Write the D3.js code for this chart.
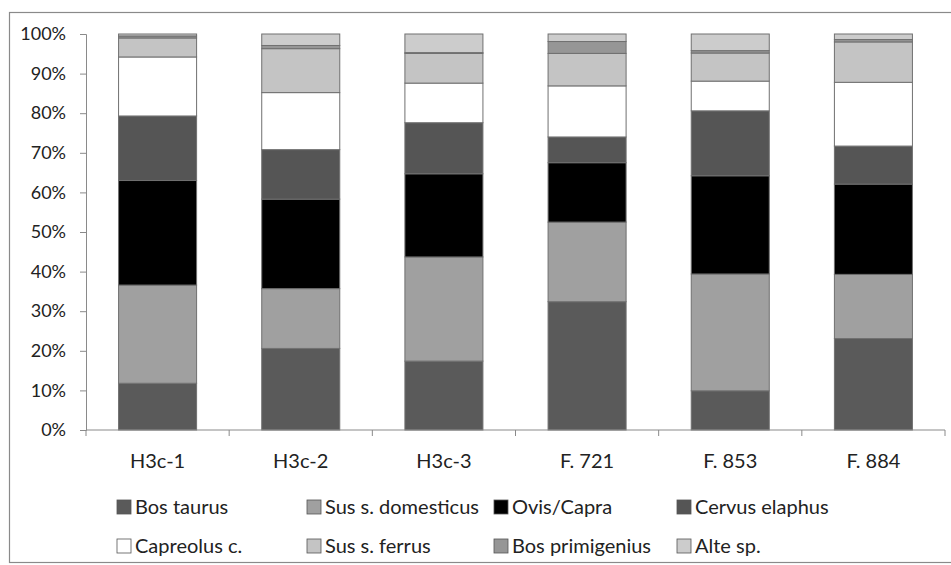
<!doctype html>
<html lang="en">
<head>
  <meta charset="UTF-8">
  <title>Fauna</title>
  <script src="https://cdn.jsdelivr.net/npm/d3@7"></script>
</head>
<body style="margin: 0; background: white">
<div id="container"></div>
<script type="text/javascript">
var sites = ['H3c-1', 'H3c-2', 'H3c-3', 'F. 721', 'F. 853', 'F. 884'];
var species = ['Bos taurus', 'Sus s. domesticus', 'Ovis/Capra', 'Cervus elaphus',
               'Capreolus c.', 'Sus s. ferrus', 'Bos primigenius', 'Alte sp.'];

// percentages per site, same order as sites
var bosTaurus      = [11.8, 20.6, 17.4, 32.4,  9.9, 23.1];
var susDomesticus  = [24.8, 15.1, 26.3, 20.1, 29.5, 16.2];
var ovisCapra      = [26.4, 22.6, 21.0, 15.0, 24.8, 22.8];
var cervusElaphus  = [16.3, 12.5, 12.9,  6.5, 16.4,  9.6];
var capreolus      = [14.9, 14.4, 10.0, 12.9,  7.5, 16.1];
var susFerrus      = [ 4.8, 11.1,  7.5,  8.2,  7.1, 10.2];
var bosPrimigenius = [ 0.5,  0.8,  0.2,  3.0,  0.6,  0.6];
var alteSp         = [ 0.5,  2.9,  4.7,  1.9,  4.2,  1.4];

var yTicks = [0, 10, 20, 30, 40, 50, 60, 70, 80, 90, 100];

var colors = ['#5a5a5a', '#a0a0a0', '#000000', '#555555',
              '#ffffff', '#c4c4c4', '#969696', '#cccccc'];

var seriesValues = [bosTaurus, susDomesticus, ovisCapra, cervusElaphus,
                    capreolus, susFerrus, bosPrimigenius, alteSp];

var rows = sites.map(function(s, i) {
  var r = {site: s};
  species.forEach(function(sp, j) { r[sp] = seriesValues[j][i]; });
  return r;
});

var W = 951, H = 565;
var font = 'Lato, "Open Sans", sans-serif';
var svg = d3.select('#container').append('svg')
  .attr('width', W)
  .attr('height', H)
  .style('font-family', font);

// outer frame
svg.append('rect')
  .attr('x', 9.5).attr('y', 12.5)
  .attr('width', 960).attr('height', 550)
  .attr('fill', 'none')
  .attr('stroke', '#8a8a8a')
  .attr('stroke-width', 1.2);

var x = d3.scaleBand()
  .domain(sites)
  .range([86, 945])
  .paddingInner(0.455)
  .paddingOuter(0.2275);

var y = d3.scaleLinear()
  .domain([0, 100])
  .range([430, 34]);

var stack = d3.stack().keys(species);
var layers = stack(rows);

svg.selectAll('.layer')
  .data(layers)
  .enter()
  .append('g')
  .attr('class', 'layer')
  .attr('fill', function(d, i) { return colors[i]; })
  .selectAll('rect')
  .data(function(d) { return d; })
  .enter()
  .append('rect')
  .attr('x', function(d) { return x(d.data.site); })
  .attr('y', function(d) { return y(d[1]); })
  .attr('width', x.bandwidth())
  .attr('height', function(d) { return y(d[0]) - y(d[1]); })
  .attr('stroke', '#707070')
  .attr('stroke-width', 1);

// y axis
var yAxis = svg.append('g')
  .attr('transform', 'translate(86,0)')
  .call(d3.axisLeft(y).tickValues(yTicks).tickSize(6).tickPadding(14)
    .tickFormat(function(d) { return d + '%'; }));
yAxis.select('.domain').attr('stroke', '#8a8a8a');
yAxis.selectAll('.tick line').attr('stroke', '#8a8a8a');
yAxis.selectAll('.tick text')
  .attr('fill', '#222')
  .style('font-size', '18px')
  .style('font-family', font);

// x axis with boundary ticks
var xAxis = svg.append('g').attr('transform', 'translate(0,430)');
xAxis.append('line')
  .attr('x1', 86).attr('x2', 945)
  .attr('stroke', '#8a8a8a');
var bounds = sites.map(function(s) { return x(s) - x.step() * x.paddingInner() / 2; });
bounds.push(x(sites[sites.length - 1]) + x.bandwidth() + x.step() * x.paddingInner() / 2);
xAxis.selectAll('.xt')
  .data(bounds)
  .enter()
  .append('line')
  .attr('x1', function(d) { return d; })
  .attr('x2', function(d) { return d; })
  .attr('y1', 0).attr('y2', 6)
  .attr('stroke', '#8a8a8a');
xAxis.selectAll('.xl')
  .data(sites)
  .enter()
  .append('text')
  .attr('x', function(d) { return x(d) + x.bandwidth() / 2; })
  .attr('y', 38)
  .attr('text-anchor', 'middle')
  .attr('fill', '#222')
  .style('font-size', '20px')
  .text(function(d) { return d; });

// legend
var legendX = [117, 307, 494, 677];
var legendY = [514, 553];
var legend = svg.selectAll('.legend')
  .data(species)
  .enter()
  .append('g')
  .attr('class', 'legend')
  .attr('transform', function(d, i) {
    return 'translate(' + legendX[i % 4] + ',' + legendY[Math.floor(i / 4)] + ')';
  });
legend.append('rect')
  .attr('x', 0).attr('y', -14)
  .attr('width', 14).attr('height', 14)
  .attr('fill', function(d, i) { return colors[i]; })
  .attr('stroke', '#555')
  .attr('stroke-width', 0.8);
legend.append('text')
  .attr('x', 18)
  .attr('y', 0)
  .attr('fill', '#222')
  .style('font-size', '20px')
  .text(function(d) { return d; });
</script>
</body>
</html>
